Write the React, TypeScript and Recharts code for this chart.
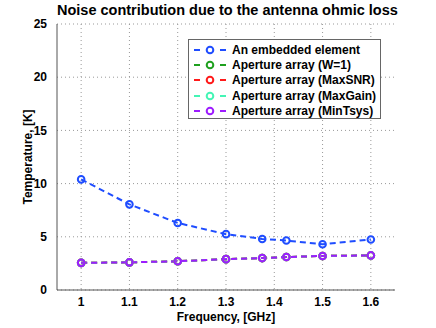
import { CartesianGrid, Line, LineChart, XAxis, YAxis } from 'recharts'

const freqs = [1, 1.1, 1.2, 1.3, 1.375, 1.425, 1.5, 1.6]
const embedded = [10.4, 8.05, 6.3, 5.25, 4.8, 4.65, 4.3, 4.75]
const weightOne = [2.55, 2.6, 2.7, 2.9, 3.0, 3.1, 3.2, 3.25]
const maxSnr = [2.55, 2.6, 2.7, 2.9, 3.0, 3.1, 3.2, 3.25]
const maxGain = [2.55, 2.6, 2.7, 2.9, 3.0, 3.1, 3.2, 3.25]
const minTsys = [2.55, 2.6, 2.7, 2.9, 3.0, 3.1, 3.2, 3.25]
const xTicks = [1, 1.1, 1.2, 1.3, 1.4, 1.5, 1.6]
const yTicks = [0, 5, 10, 15, 20, 25]

const series = [
  { key: 'embedded', name: 'An embedded element', color: '#1f4dff' },
  { key: 'w1', name: 'Aperture array (W=1)', color: '#1fa01f' },
  { key: 'snr', name: 'Aperture array (MaxSNR)', color: '#ff1a1a' },
  { key: 'gain', name: 'Aperture array (MaxGain)', color: '#44f5b5' },
  { key: 'tsys', name: 'Aperture array (MinTsys)', color: '#9d1cff' },
]

const data = freqs.map((f, i) => ({
  f,
  embedded: embedded[i],
  w1: weightOne[i],
  snr: maxSnr[i],
  gain: maxGain[i],
  tsys: minTsys[i],
}))

const font = 'Liberation Sans, Arial, sans-serif'

function LegendBox() {
  return (
    <div
      style={{
        position: 'absolute',
        left: 188,
        top: 39,
        border: '1px solid #666',
        background: '#fff',
        width: 193,
        height: 80,
        boxSizing: 'border-box',
        paddingTop: 2,
      }}
    >
      {series.map((s) => (
        <div key={s.key} style={{ display: 'flex', alignItems: 'center', height: 15.4 }}>
          <svg width={40} height={12} style={{ marginLeft: 3 }}>
            <line x1={2} y1={6} x2={8} y2={6} stroke={s.color} strokeWidth={2} />
            <circle cx={18} cy={6} r={3.3} fill="none" stroke={s.color} strokeWidth={2} />
            <line x1={28} y1={6} x2={34} y2={6} stroke={s.color} strokeWidth={2} />
          </svg>
          <span style={{ fontFamily: font, fontWeight: 'bold', fontSize: 12, color: '#000', whiteSpace: 'nowrap' }}>
            {s.name}
          </span>
        </div>
      ))}
    </div>
  )
}

export default function App() {
  return (
    <div style={{ position: 'absolute', left: 0, top: 0, width: 436, height: 328, background: '#fff' }}>
      <div
        style={{
          position: 'absolute',
          left: 57,
          width: 338,
          top: 2,
          textAlign: 'center',
          fontFamily: font,
          fontWeight: 'bold',
          fontSize: 14.5,
          whiteSpace: 'nowrap',
        }}
      >
        Noise contribution due to the antenna ohmic loss
      </div>
      <LineChart width={436} height={328} data={data} margin={{ top: 24, right: 41, bottom: 0, left: 0 }}>
        <CartesianGrid stroke="#999" strokeDasharray="1 3" horizontalValues={yTicks} verticalValues={xTicks} />
        <XAxis
          dataKey="f"
          type="number"
          domain={[0.95, 1.65]}
          ticks={xTicks}
          height={38}
          tickLine={false}
          stroke="#555"
          tick={{ fill: '#000', fontFamily: font, fontWeight: 'bold', fontSize: 12 }}
          tickMargin={1}
          label={{
            value: 'Frequency, [GHz]',
            position: 'insideBottom',
            offset: 7,
            style: { fill: '#000', fontFamily: font, fontWeight: 'bold', fontSize: 12 },
          }}
        />
        <YAxis
          type="number"
          domain={[0, 25]}
          ticks={yTicks}
          width={57}
          tickLine={false}
          stroke="#555"
          tick={{ fill: '#000', fontFamily: font, fontWeight: 'bold', fontSize: 12 }}
          tickMargin={4}
          label={{
            value: 'Temperature, [K]',
            angle: -90,
            position: 'insideLeft',
            offset: 28,
            style: { fill: '#000', fontFamily: font, fontWeight: 'bold', fontSize: 12, textAnchor: 'middle' },
          }}
        />
        {series.map((s) => (
          <Line
            key={s.key}
            dataKey={s.key}
            name={s.name}
            type="linear"
            stroke={s.color}
            strokeWidth={2}
            strokeDasharray="6 4"
            dot={{ r: 3.3, fill: 'none', stroke: s.color, strokeWidth: 2, strokeDasharray: '' }}
            isAnimationActive={false}
          />
        ))}
      </LineChart>
      <LegendBox />
    </div>
  )
}
